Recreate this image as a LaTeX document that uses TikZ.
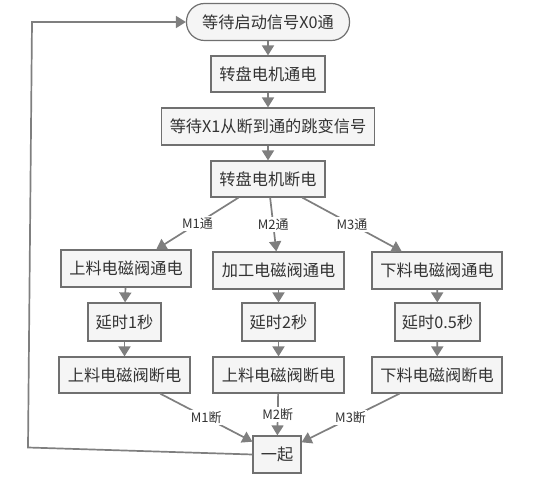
\documentclass[tikz,border=0pt]{standalone}
\usepackage{fontspec}
\setmainfont{Noto Sans CJK SC}
\usetikzlibrary{arrows.meta}
\definecolor{boxfill}{HTML}{F5F5F5}
\definecolor{boxline}{HTML}{707070}
\definecolor{conn}{HTML}{7F7F7F}
\definecolor{txt}{HTML}{333333}
\begin{document}
\begin{tikzpicture}[x=1pt,y=-1pt,
  box/.style={draw=boxline,fill=boxfill,line width=1.2pt,text=txt,font=\fontsize{16.2}{19}\selectfont,minimum height=36pt,inner sep=0pt,anchor=center},
  term/.style={box,rounded corners=18pt},
  arr/.style={draw=conn,line width=1.7pt,-{Triangle[width=12pt,length=10pt]}},
  lbl/.style={fill=white,text=txt,font=\fontsize{13}{15}\selectfont,inner sep=1.5pt}]
\useasboundingbox (0,0) rectangle (552,478);
\node[term,minimum width=163pt,minimum height=37pt] (t) at (268,22) {等待启动信号X0通};
\node[box,minimum width=114pt] (b2) at (268,74) {转盘电机通电};
\node[box,minimum width=213pt,minimum height=37pt] (b3) at (268,126.5) {等待X1从断到通的跳变信号};
\node[box,minimum width=114pt] (b4) at (268,179) {转盘电机断电};
\node[box,minimum width=130pt,minimum height=37pt] (l1) at (126,268.5) {上料电磁阀通电};
\node[box,minimum width=131pt,minimum height=37pt] (m1) at (278.5,270.5) {加工电磁阀通电};
\node[box,minimum width=130pt,minimum height=37pt] (r1) at (437,270.5) {下料电磁阀通电};
\node[box,minimum width=73pt,minimum height=38pt] (l2) at (124.5,322) {延时1秒};
\node[box,minimum width=73pt,minimum height=38pt] (m2) at (278.5,322) {延时2秒};
\node[box,minimum width=85pt,minimum height=38pt] (r2) at (437.5,322) {延时0.5秒};
\node[box,minimum width=131pt,minimum height=36pt] (l3) at (124.5,375) {上料电磁阀断电};
\node[box,minimum width=131pt,minimum height=36pt] (m3) at (278.5,375) {上料电磁阀断电};
\node[box,minimum width=130pt,minimum height=36pt] (r3) at (437,375) {下料电磁阀断电};
\node[box,minimum width=48pt,minimum height=37pt] (j) at (277,454.5) {一起};
\draw[arr] (t) -- (b2);
\draw[arr] (b2) -- (b3);
\draw[arr] (b3) -- (b4);
\draw[arr] (b4) -- node[lbl,pos=0.5]{M1通} (l1);
\draw[arr] (b4) -- node[lbl,pos=0.5]{M2通} (m1);
\draw[arr] (b4) -- node[lbl,pos=0.5]{M3通} (r1);
\draw[arr] (l1) -- (l2);
\draw[arr] (m1) -- (m2);
\draw[arr] (r1) -- (r2);
\draw[arr] (l2) -- (l3);
\draw[arr] (m2) -- (m3);
\draw[arr] (r2) -- (r3);
\draw[arr] (l3) -- node[lbl,pos=0.5]{M1断} (j);
\draw[arr] (m3) -- node[lbl,pos=0.5]{M2断} (j);
\draw[arr] (r3) -- node[lbl,pos=0.5]{M3断} (j);
\coordinate (c1) at (28,447.5);
\coordinate (c2) at (32,22);
\draw[arr] (j.west) -- (c1) -- (c2) -- (t.west);
\end{tikzpicture}
\end{document}
